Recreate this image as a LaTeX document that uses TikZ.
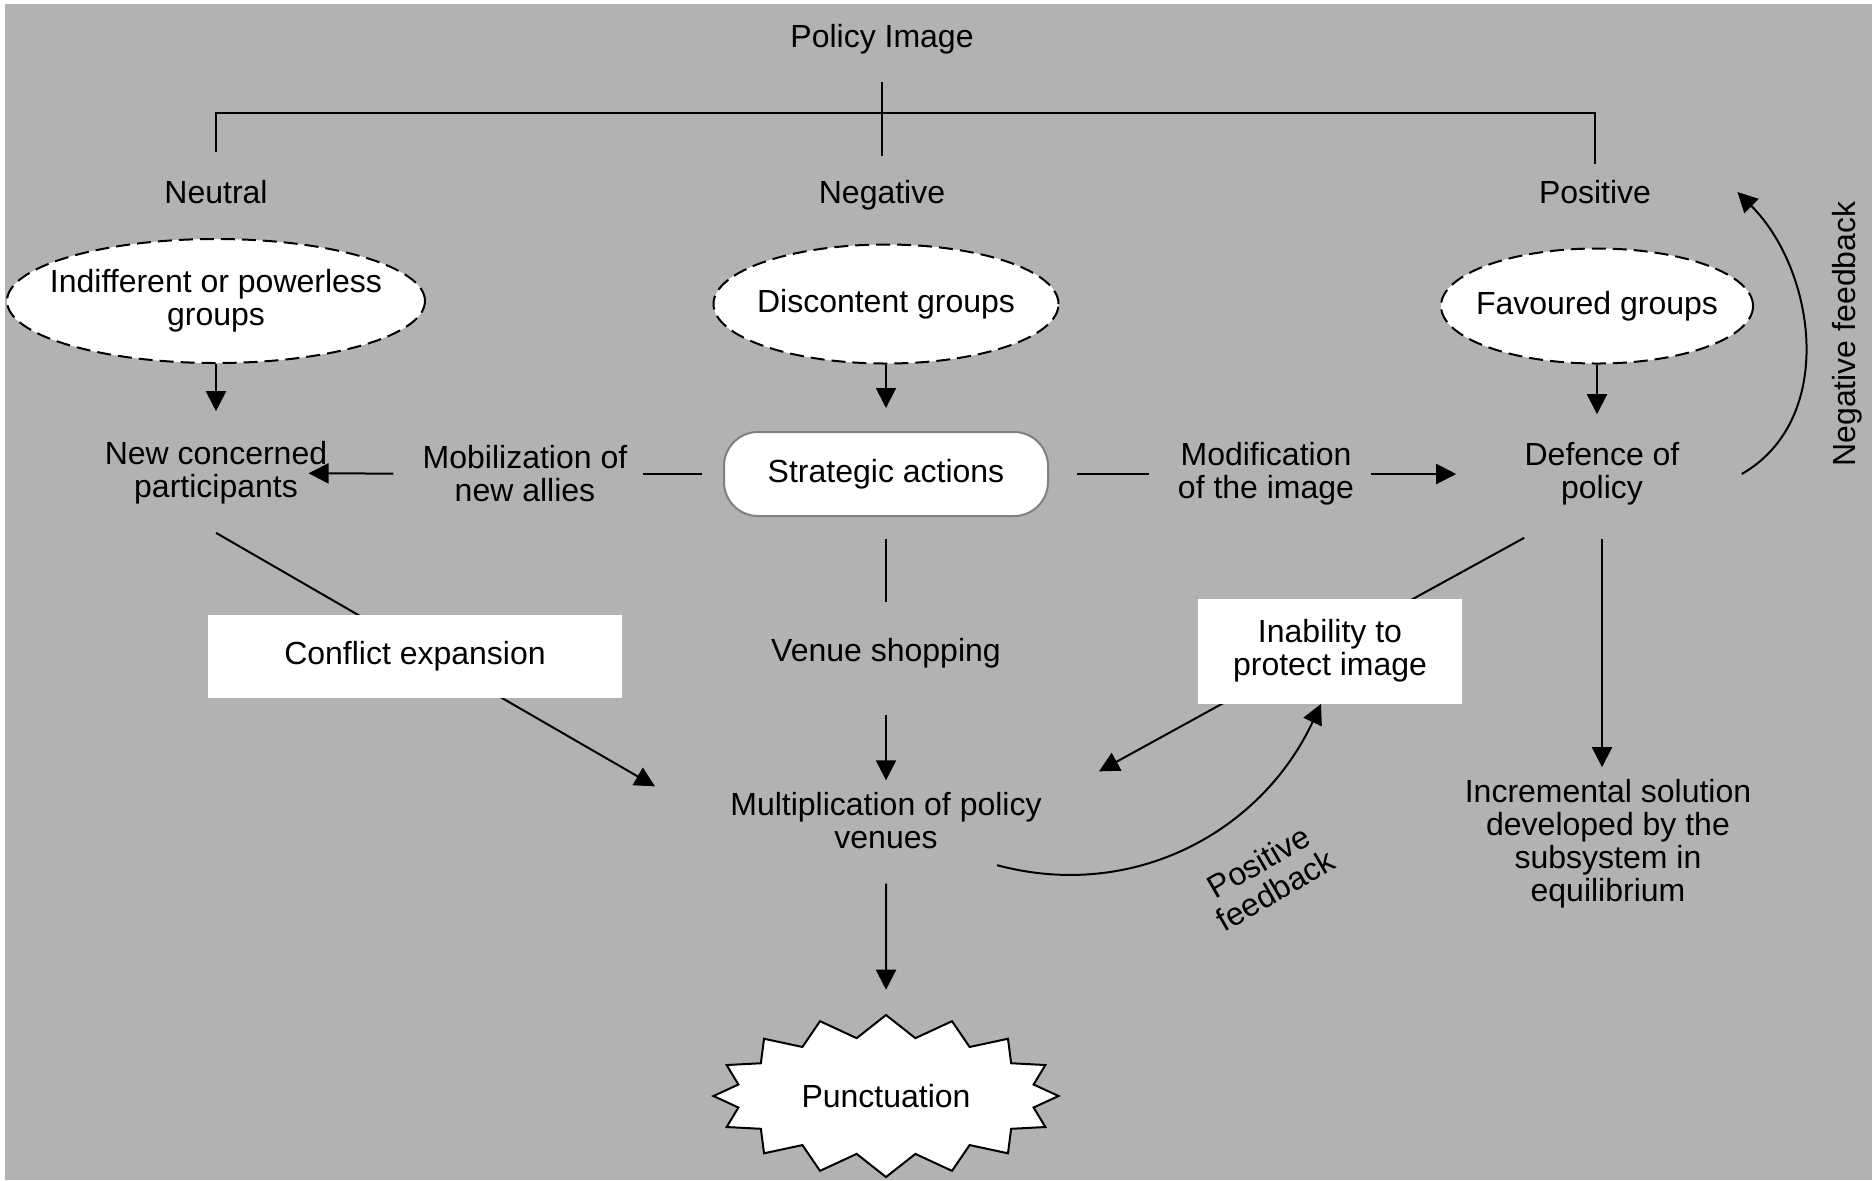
\documentclass[tikz,border=0pt]{standalone}
\usepackage{fontspec}
\setmainfont{Liberation Sans}
\usetikzlibrary{shapes.geometric, shapes.symbols, arrows.meta, calc}
\definecolor{bggray}{RGB}{178,178,178}
\definecolor{edgegray}{RGB}{128,128,128}

\begin{document}
\begin{tikzpicture}[x=0.5pt, y=-0.5pt,
    font=\fontsize{16}{16.5}\selectfont,
    every node/.style={inner sep=0pt, align=center},
    group/.style={ellipse, draw, dash pattern=on 7pt off 3.5pt, fill=white, line width=1pt, inner xsep=-12pt},
    box/.style={fill=white},
    con/.style={line width=1pt},
    arr/.style={con, -{Triangle[length=10pt,width=10pt]}}]
      \fill[bggray] (5,4) rectangle (1872,1180);
      \useasboundingbox (0,0) rectangle (1872,1180);

      \node (policy) at (882,39) {Policy Image};
      \node (neutral) at (216,192) {Neutral};
      \node (negative) at (882,195) {Negative};
      \node (positive) at (1595,192) {Positive};
      \coordinate (bar) at (882,113);

      \node[group, minimum width=209pt, minimum height=62pt] (indiff) at (216,301) {Indifferent or powerless\\groups};
      \node[group, minimum width=172.5pt, minimum height=59.5pt] (discontent) at (886,304) {Discontent groups};
      \node[group, minimum width=156pt, minimum height=57.5pt] (favoured) at (1597,306) {Favoured groups};

      \node (newpart) at (216,473) {New concerned\\participants};
      \node (mobil) at (525,474) {Mobilization of\\new allies};
      \node[draw=edgegray, fill=white, line width=1pt, rounded corners=17pt, minimum width=162pt, minimum height=42pt] (strategic) at (886,474) {Strategic actions};
      \node (modif) at (1266,474) {Modification\\of the image};
      \node (defence) at (1602,474) {Defence of\\policy};

      \node (venue) at (886,653) {Venue shopping};
      \node (multi) at (886,821) {Multiplication of policy\\venues};
      \node[starburst, starburst points=16, starburst point height=11pt, random starburst=0, draw, fill=white, line width=1pt, minimum width=172.5pt, minimum height=81pt] (punct) at (886,1096) {Punctuation};
      \node (incremental) at (1608,844) {Incremental solution\\developed by the\\subsystem in\\equilibrium};
      \node[rotate=90] (negfb) at (1847,334) {Negative feedback};
      \node[rotate=30] (posfb) at (1267,876) {Positive\\feedback};

      \draw[con] ([yshift=-14pt]policy.south) -- ([yshift=12pt]negative.north);
      \draw[con] ([yshift=14pt]neutral.north) |- (bar) -| ([yshift=8pt]positive.north);

      \draw[arr, shorten >=15pt] (indiff) -- (newpart);
      \draw[arr, shorten >=11.5pt] (discontent) -- (strategic);
      \draw[arr, shorten >=14pt] (favoured.south) -- (favoured.south |- defence.north);

      \draw[con, shorten <=10.5pt, shorten >=7.5pt] (strategic) -- (mobil);
      \draw[arr, shorten <=14.5pt, shorten >=-9.5pt] (mobil) -- (newpart);
      \draw[con, shorten <=14pt, shorten >=14.5pt] (strategic) -- (modif);
      \draw[arr, shorten <=8.5pt, shorten >=34pt] (modif) -- (defence);
      \draw[arr] ([xshift=31pt]defence.east) to[out=30, in=-45] ([xshift=43pt]positive.east);

      \draw[arr] ([yshift=-14pt]newpart.south) -- ([shift={(-37.5pt,3pt)}]multi.north west);
      \draw[arr] ([yshift=-16pt]defence.south west) -- ([shift={(28.5pt,10.5pt)}]multi.north east);
      \draw[con, shorten <=11pt, shorten >=18pt] (strategic) -- (venue);
      \draw[arr, shorten <=23.5pt, shorten >=6pt] (venue) -- (multi);
      \draw[arr, shorten <=17pt, shorten >=12pt] (multi) -- (punct);
      \draw[arr, shorten >=6pt] ([yshift=-16.5pt]defence.south) -- (defence.south |- incremental.north);

      \node[box, minimum width=207pt, minimum height=41.5pt] (conflict) at (415,656) {Conflict expansion};
      \node[box, minimum width=132pt, minimum height=52.5pt] (inability) at (1330,651) {Inability to\\protect image};

      \draw[arr] ([shift={(-22.5pt,-7.75pt)}]multi.south east) to[out=-15, in=-115] ([xshift=-4.5pt]inability.south);
    \end{tikzpicture}
\end{document}
